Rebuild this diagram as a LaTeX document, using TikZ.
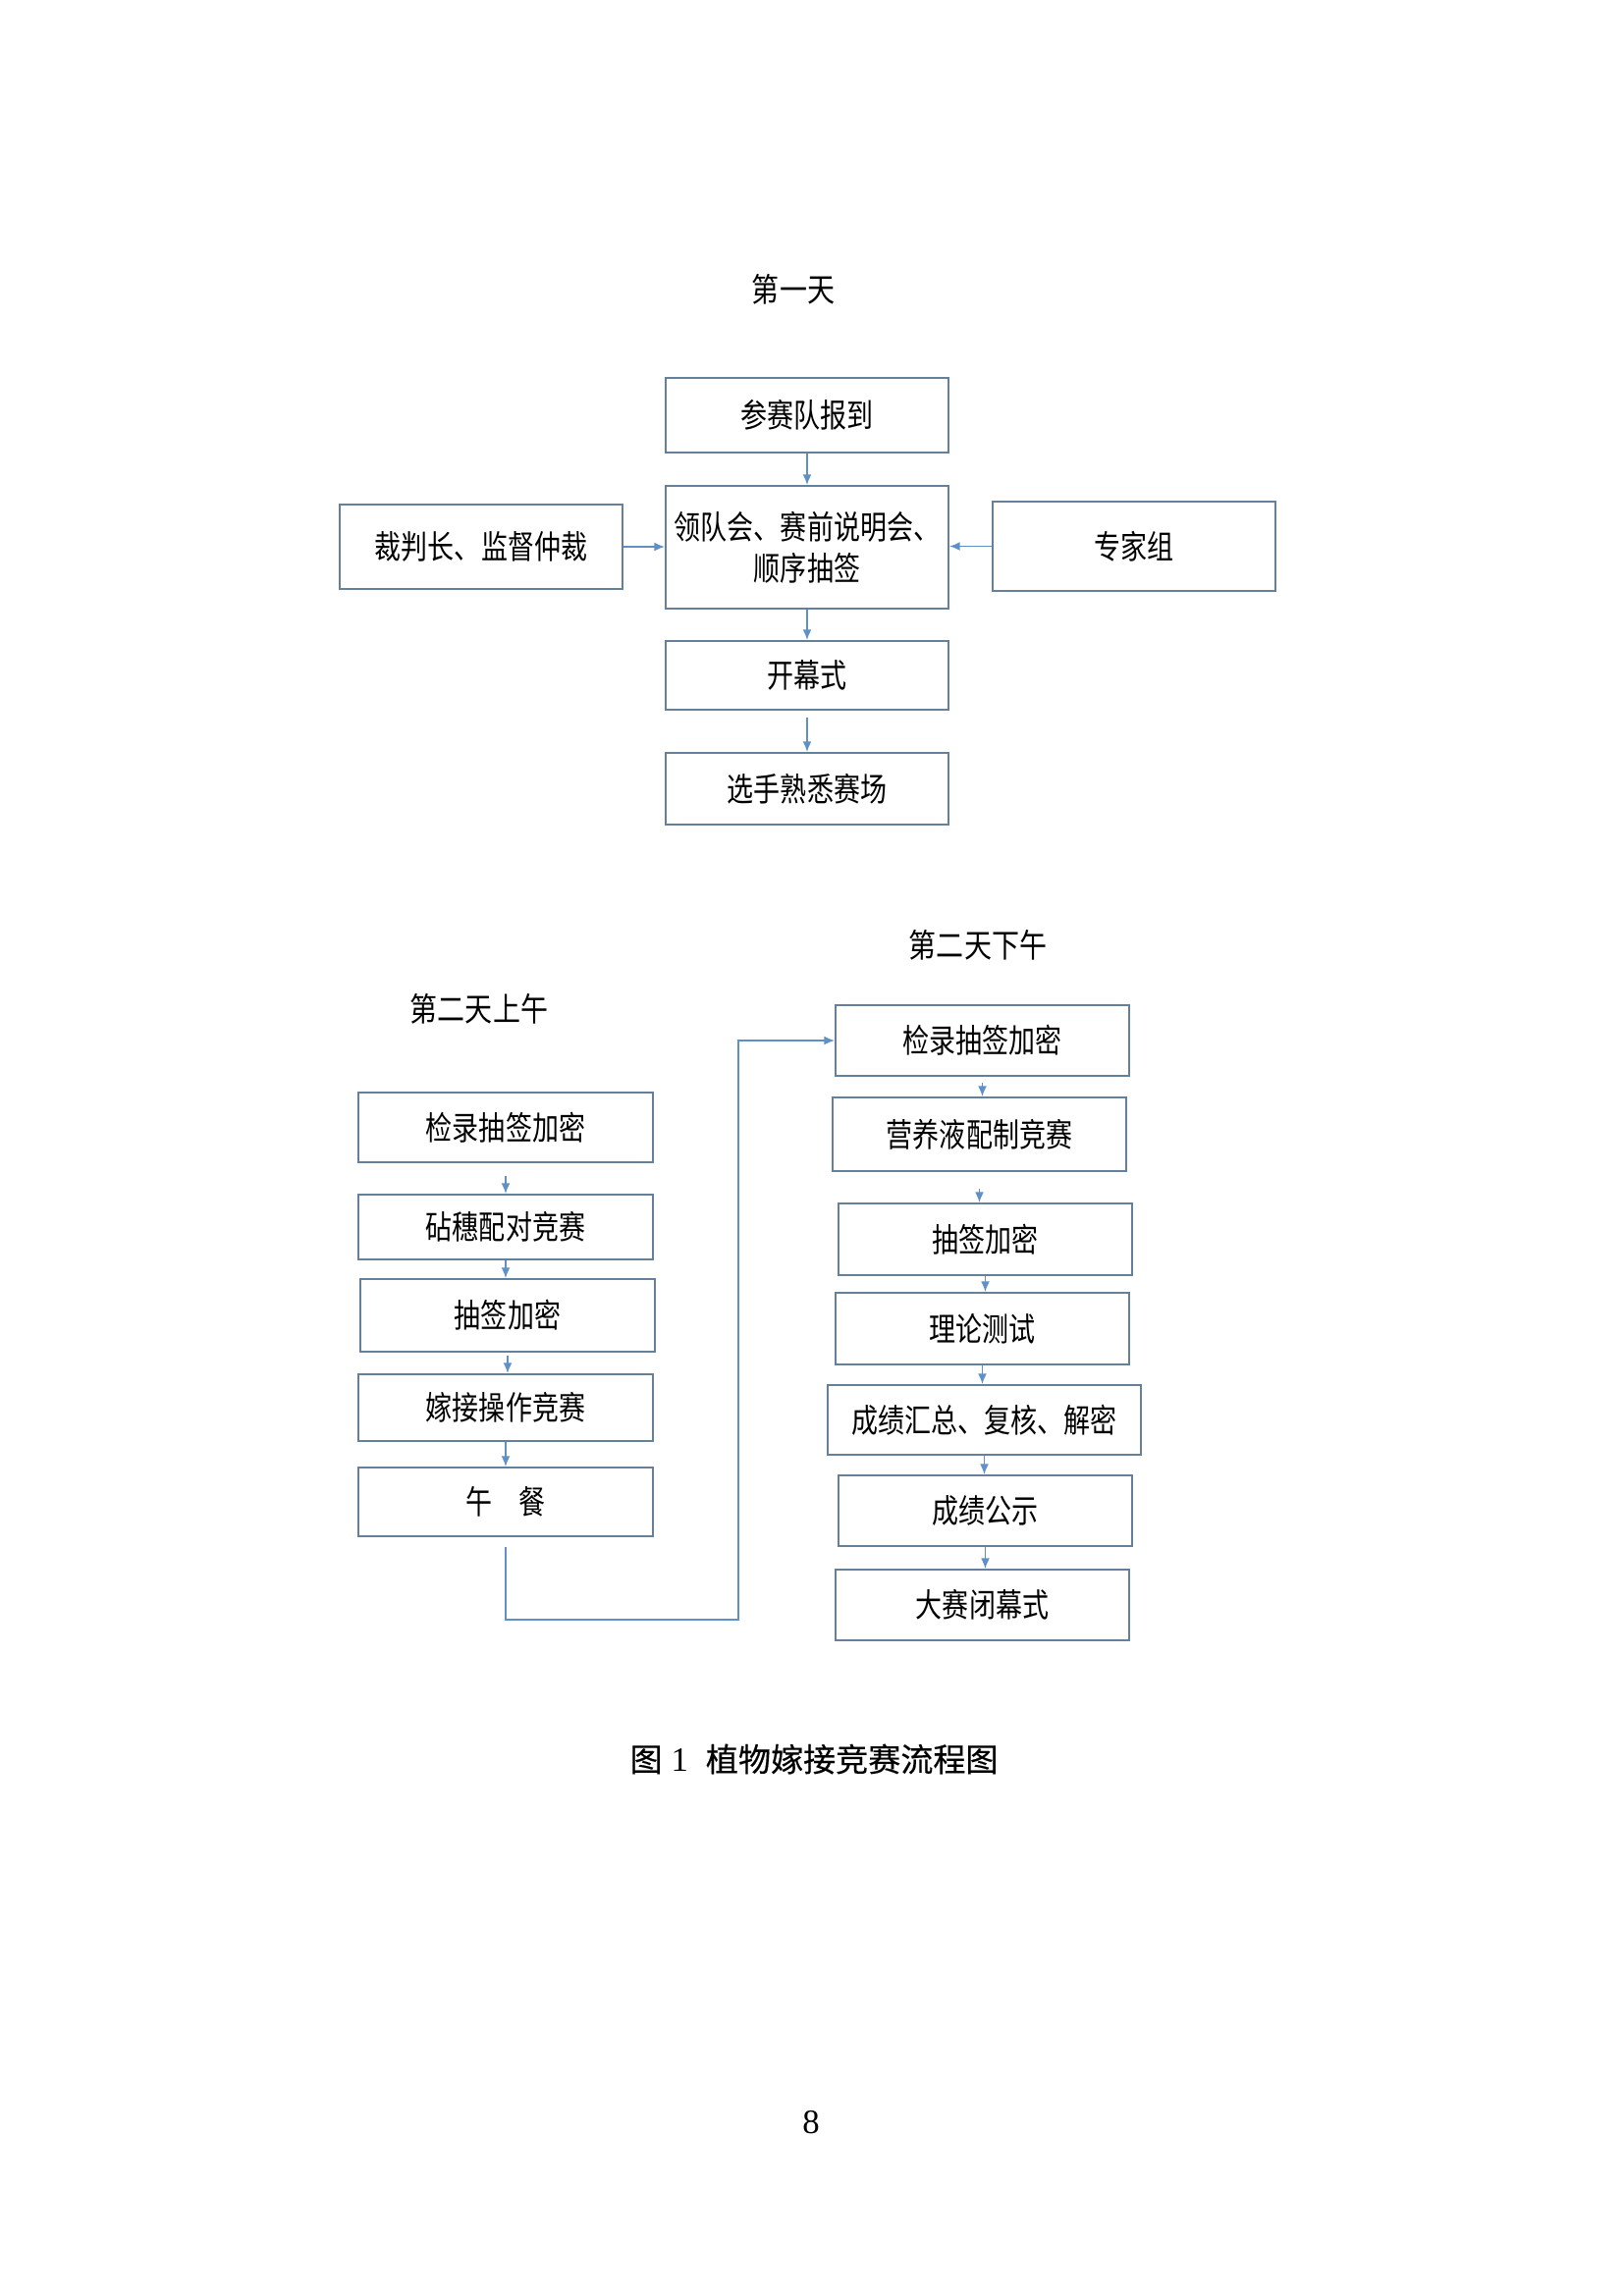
\documentclass[tikz,border=0pt]{standalone}
\usepackage{fontspec}
\usetikzlibrary{arrows.meta}
\newfontfamily\cjk[FakeStretch=0.81]{Noto Sans CJK SC}
\newfontfamily\cjkhead[FakeStretch=0.84]{Noto Sans CJK SC}
\newfontfamily\cjkcap[FakeBold=0.4]{Noto Sans CJK SC}
\newfontfamily\serifnum{Liberation Serif}
\definecolor{boxcol}{RGB}{100,128,155}
\definecolor{arrcol}{RGB}{95,145,200}
\tikzset{
  wh/.style 2 args={minimum width=#1*0.3599pt, minimum height=#2*0.3599pt},
  flowbox/.style={draw=boxcol, line width=0.75pt, inner sep=0pt, align=center,
    font=\cjk\fontsize{12}{15}\selectfont},
  heading/.style={inner sep=0pt, font=\cjkhead\fontsize{12}{14}\selectfont},
  arr/.style={draw=arrcol, line width=0.55pt, -{Latex[length=3.8pt,width=3.2pt]}},
}
\begin{document}
\begin{tikzpicture}[x=0.3599pt, y=-0.3599pt]
\useasboundingbox (0,0) rectangle (1654,2339);
\fill[white] (0,0) rectangle (1654,2339);

% ---------- Day 1 ----------
\node[heading] (h1) at (808,295) {第一天};
\node[flowbox, wh={288}{76}] (A) at (822,423) {参赛队报到};
\node[flowbox, wh={288}{125}] (B) at (822,557.5) {领队会、赛前说明会、\\顺序抽签};
\node[flowbox, wh={288}{86}] (L) at (490,557) {裁判长、监督仲裁};
\node[flowbox, wh={288}{91}] (R) at (1155,556.5) {专家组};
\node[flowbox, wh={288}{70}] (C) at (822,688) {开幕式};
\node[flowbox, wh={288}{73}] (D) at (822,803.5) {选手熟悉赛场};

\draw[arr] (A.south) -- (B.north);
\draw[arr] (B.south) -- (C.north);
\draw[arr] ([yshift=-2.5pt]C.south) -- (D.north);
\draw[arr] (L.east) -- (L.east -| B.west);
\draw[arr] (R.west) -- (R.west -| B.east);

% ---------- Day 2 morning ----------
\node[heading] (h2) at (488,1028) {第二天上午};
\node[flowbox, wh={300}{71}] (L1) at (515,1148.5) {检录抽签加密};
\node[flowbox, wh={300}{66}] (L2) at (515,1250) {砧穗配对竞赛};
\node[flowbox, wh={300}{74}] (L3) at (517,1340) {抽签加密};
\node[flowbox, wh={300}{68}] (L4) at (515,1434) {嫁接操作竞赛};
\node[flowbox, wh={300}{70}] (L5) at (515,1530) {午　餐};

\draw[arr] ([yshift=-4.6pt]L1.south) -- (L2.north);
\draw[arr] (L2.south) -- (L2.south |- L3.north);
\draw[arr] ([yshift=-1pt]L3.south) -- (L3.south |- L4.north);
\draw[arr] (L4.south) -- (L5.north);

% ---------- Day 2 afternoon ----------
\node[heading] (h3) at (996,963) {第二天下午};
\node[flowbox, wh={299}{72}] (R1) at (1000.5,1060) {检录抽签加密};
\node[flowbox, wh={299}{75}] (R2) at (997.5,1155.5) {营养液配制竞赛};
\node[flowbox, wh={299}{73}] (R3) at (1003.5,1262.5) {抽签加密};
\node[flowbox, wh={299}{73}] (R4) at (1000.5,1353.5) {理论测试};
\node[flowbox, wh={319}{71}] (R5) at (1002.5,1446.5) {成绩汇总、复核、解密};
\node[flowbox, wh={299}{72}] (R6) at (1003.5,1539) {成绩公示};
\node[flowbox, wh={299}{72}] (R7) at (1000.5,1635) {大赛闭幕式};

\draw[arr] ([yshift=-2pt]R1.south) -- (R1.south |- R2.north);
\draw[arr] ([yshift=-6pt]R2.south) -- (R2.south |- R3.north);
\draw[arr] (R3.south) -- (R3.south |- R4.north);
\draw[arr] (R4.south) -- (R4.south |- R5.north);
\draw[arr] (R5.south) -- (R5.south |- R6.north);
\draw[arr] (R6.south) -- (R6.south |- R7.north);

% ---------- link from lunch to afternoon ----------
\coordinate (turn) at (752,1650);
\draw[arr] ([yshift=-3.6pt]L5.south) |- (turn) |- (R1.west);

% ---------- caption and page number ----------
\node[inner sep=0pt, anchor=west] (cap) at (641,1792)
  {\cjkcap\fontsize{11.9}{13}\selectfont 图\hspace{3.2pt}{\serifnum\fontsize{12.5}{13}\selectfont 1}\hspace{6.5pt}植物嫁接竞赛流程图};
\node[inner sep=0pt, font=\serifnum\fontsize{12.5}{14}\selectfont] (pg) at (826,2162) {8};
\end{tikzpicture}
\end{document}
